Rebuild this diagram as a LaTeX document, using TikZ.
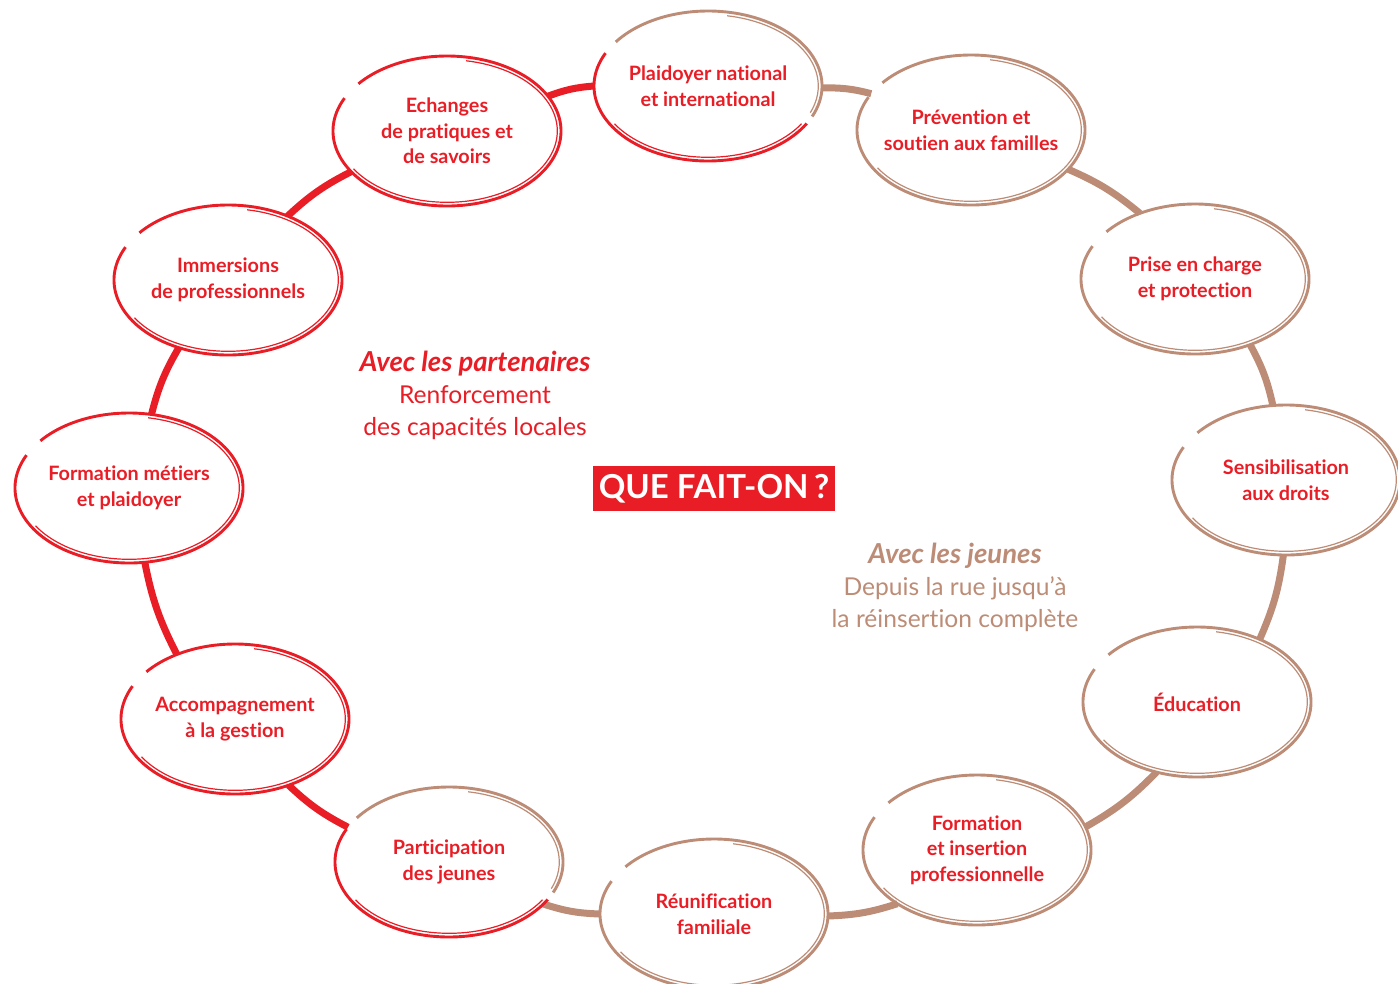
\documentclass[tikz,border=0pt]{standalone}
\usepackage{fontspec}
\setmainfont{Lato}[Ligatures=NoCommon]
\usetikzlibrary{shapes.geometric}
\definecolor{cred}{HTML}{E91D25}
\definecolor{cbrown}{HTML}{BC8C76}
\newcommand\ellout[4]{\draw[#2, line width=2.9pt] ([shift={(#3:114 and 75)}]#1.center) arc[start angle=#3,end angle=#4,x radius=114,y radius=75];}
\newcommand\ellin[4]{\draw[#2, line width=1.2pt] ([shift={(#3:110.3 and 71.3)}]#1.center) arc[start angle=#3,end angle=#4,x radius=110.3,y radius=71.3];}
\begin{document}
\begin{tikzpicture}[x=1pt,y=1pt,
  ell/.style={ellipse, minimum width=228, minimum height=150, inner sep=0, outer sep=0, draw=none},
  lab/.style={align=center, text=cred, font=\bfseries\fontsize{19.8}{25.5}\selectfont},
  conr/.style={draw=cred, line width=7pt, bend left=8},
  conb/.style={draw=cbrown, line width=7pt, bend left=8}]
\useasboundingbox (0,0) rectangle (1398,-983);
% ellipse nodes
\node[ell] (P1) at (708,-86) {};
\node[ell] (P2) at (971,-130) {};
\node[ell] (P3) at (1195,-279) {};
\node[ell] (P4) at (1286,-480) {};
\node[ell] (P5) at (1197,-702) {};
\node[ell] (P6) at (977,-850) {};
\node[ell] (P7) at (714,-914) {};
\node[ell] (P8) at (449,-862) {};
\node[ell] (P9) at (235,-719) {};
\node[ell] (P10) at (129,-488) {};
\node[ell] (P11) at (228,-280) {};
\node[ell] (P12) at (447,-131) {};
% connectors
\draw[conb] (P1.-1) to (P2.160);
\draw[conb] (P2.-22) to (P3.130);
\draw[conb] (P3.-50) to (P4.100);
\draw[conb] (P4.-92) to (P5.45);
\draw[conb] (P5.-120) to (P6.12);
\draw[conb] (P6.-146) to (P7.-1);
\draw[conb] (P7.180) to (P8.-24);
\draw[conr] (P8.161) to (P9.-51);
\draw[conr] (P9.132) to (P10.-78);
\draw[conr] (P10.73) to (P11.-126);
\draw[conr] (P11.47) to (P12.-157);
\draw[conr] (P12.19) to (P1.180);
% outlines
\foreach \n in {P2,P3,P4,P5,P6,P7} {\ellout{\n}{cbrown}{154}{501}\ellin{\n}{cbrown}{212}{440}}
\foreach \n in {P9,P10,P11,P12} {\ellout{\n}{cred}{154}{501}\ellin{\n}{cred}{212}{440}}
\foreach \n in {P1,P8} {\ellout{\n}{cred}{154}{330}\ellout{\n}{cbrown}{336}{504}\ellin{\n}{cred}{212}{328}\ellin{\n}{cbrown}{338}{440}}
% labels
\node[lab] (T1) at (P1) {Plaidoyer national\\et international};
\node[lab] (T2) at (P2) {Prévention et\\soutien aux familles};
\node[lab] (T3) at (P3) {Prise en charge\\et protection};
\node[lab] (T4) at (P4) {Sensibilisation\\aux droits};
\node[lab] (T5) at (P5) {Éducation};
\node[lab] (T6) at (P6) {Formation\\et insertion\\professionnelle};
\node[lab] (T7) at (P7) {Réunification\\familiale};
\node[lab] (T8) at (P8) {Participation\\des jeunes};
\node[lab] (T9) at (P9) {Accompagnement\\à la gestion};
\node[lab] (T10) at (P10) {Formation métiers\\et plaidoyer};
\node[lab] (T11) at (P11) {Immersions\\de professionnels};
\node[lab] (T12) at (P12) {Echanges\\de pratiques et\\de savoirs};
% centre
\node[align=center, text=cred, font=\fontsize{24.6}{32}\selectfont] (AP) at (475,-395) {{\fontsize{27.5}{32}\selectfont\textbf{\textit{Avec les partenaires}}}\\Renforcement\\des capacités locales};
\node[align=center, text=cbrown, font=\fontsize{24.6}{32}\selectfont] (AJ) at (955,-587) {{\fontsize{27.5}{32}\selectfont\textbf{\textit{Avec les jeunes}}}\\Depuis la rue jusqu’à\\la réinsertion complète};
\node[fill=cred, text=white, font=\bfseries\fontsize{33}{33}\selectfont, minimum width=242, minimum height=45, inner sep=0] (Q) at (714,-488.5) {QUE FAIT-ON\,?};
\end{tikzpicture}
\end{document}
